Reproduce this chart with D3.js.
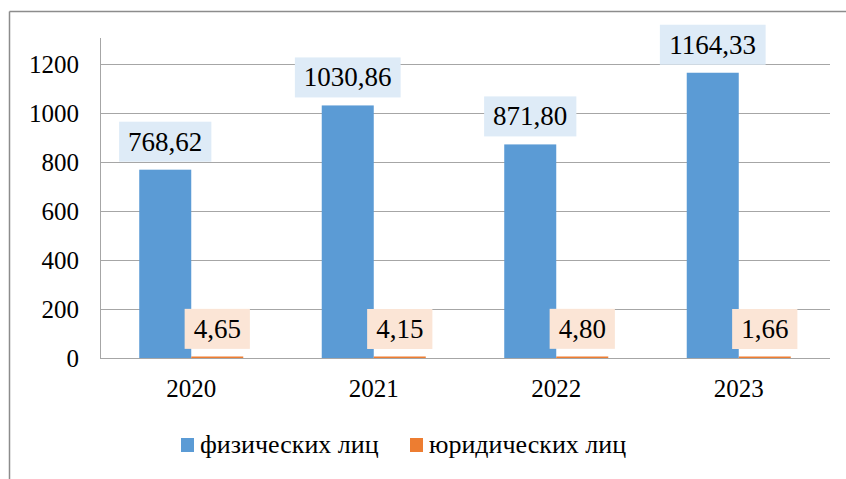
<!DOCTYPE html>
<html>
<head>
<meta charset="utf-8">
<script src="https://cdn.jsdelivr.net/npm/d3@7"></script>
</head>
<body style="margin:0; background:#fff; font-family:'Times New Roman', 'Liberation Serif', serif">
<div id="chart"></div>
<script>
// data
var years = ["2020", "2021", "2022", "2023"];
var fizValues = [768.62, 1030.86, 871.80, 1164.33];
var yurValues = [4.65, 4.15, 4.80, 1.66];
var seriesNames = ["физических лиц", "юридических лиц"];
var yTicks = [0, 200, 400, 600, 800, 1000, 1200];

var W = 846, H = 479;
var margin = {top: 38, left: 100, right: 16};
var colors = ["#5B9BD5", "#ED7D31"];
var boxColors = ["#DEEBF7", "#FBE5D6"];
var fontName = "Times New Roman";

var svg = d3.select("#chart").append("svg")
    .attr("width", W)
    .attr("height", H)
    .attr("font-family", fontName);

// outer frame (only top and left edges show)
svg.append("line")
    .attr("x1", 9.5).attr("x2", W).attr("y1", 11.5).attr("y2", 11.5)
    .attr("stroke", "#8c8c8c").attr("stroke-width", 1.5);
svg.append("line")
    .attr("x1", 9.5).attr("x2", 9.5).attr("y1", 11.5).attr("y2", H)
    .attr("stroke", "#8c8c8c").attr("stroke-width", 1.5);

var x0 = d3.scaleBand()
    .domain(years)
    .range([margin.left, W - margin.right])
    .paddingInner(0.43)
    .paddingOuter(0.215);

var x1 = d3.scaleBand()
    .domain([0, 1])
    .range([0, x0.bandwidth()]);

var yScale = d3.scaleLinear()
    .domain([0, 1200])
    .range([358, 64]);

// gridlines
svg.append("g")
  .selectAll("line")
  .data(yTicks)
  .join("line")
    .attr("x1", margin.left)
    .attr("x2", W - margin.right)
    .attr("y1", function(d) { return Math.round(yScale(d)) + 0.5; })
    .attr("y2", function(d) { return Math.round(yScale(d)) + 0.5; })
    .attr("stroke", "#a6a6a6")
    .attr("stroke-width", 1);

// y axis line
svg.append("line")
    .attr("x1", margin.left + 0.5).attr("x2", margin.left + 0.5)
    .attr("y1", margin.top).attr("y2", yScale(0))
    .attr("stroke", "#a6a6a6");

// y tick labels
yTicks.forEach(function(d) {
  svg.append("text")
    .attr("x", 79)
    .attr("y", yScale(d) + 9)
    .attr("text-anchor", "end")
    .attr("font-family", fontName)
    .attr("font-size", 25)
    .text(d);
});

// x labels
years.forEach(function(d) {
  svg.append("text")
    .attr("x", x0(d) + x0.bandwidth() / 2)
    .attr("y", 397)
    .attr("text-anchor", "middle")
    .attr("font-family", fontName)
    .attr("font-size", 25)
    .text(d);
});

var series = [fizValues, yurValues];
var fmt = function(v) { return v.toFixed(2).replace(".", ","); };

series.forEach(function(vals, s) {
  svg.append("g")
    .selectAll("rect")
    .data(vals)
    .join("rect")
      .attr("x", function(d, i) { return x0(years[i]) + x1(s); })
      .attr("y", function(d) { return Math.min(yScale(d), yScale(0) - 1.5); })
      .attr("width", x1.bandwidth())
      .attr("height", function(d) { return Math.max(yScale(0) - yScale(d), 1.5); })
      .attr("fill", colors[s]);

  // data labels on filled boxes, 8px above the bar
  vals.forEach(function(d, i) {
    var cx = x0(years[i]) + x1(s) + x1.bandwidth() / 2;
    var bottom = Math.min(yScale(d), yScale(0) - 1) - 8;
    var label = fmt(d);
    var w = (label.length - 0.5) * 13.5 + 18;
    svg.append("rect")
      .attr("x", cx - w / 2)
      .attr("y", bottom - 40)
      .attr("width", w)
      .attr("height", 40)
      .attr("fill", boxColors[s]);
    svg.append("text")
      .attr("x", cx)
      .attr("y", bottom - 11)
      .attr("text-anchor", "middle")
      .attr("font-family", fontName)
      .attr("font-size", 27)
      .text(label);
  });
});

// legend
var legendX = [181, 410];
seriesNames.forEach(function(name, i) {
  svg.append("rect")
    .attr("x", legendX[i])
    .attr("y", 438)
    .attr("width", 13)
    .attr("height", 14)
    .attr("fill", colors[i]);
  svg.append("text")
    .attr("x", legendX[i] + 19)
    .attr("y", 453)
    .attr("font-family", fontName)
    .attr("font-size", 26)
    .text(name);
});
</script>
</body>
</html>
